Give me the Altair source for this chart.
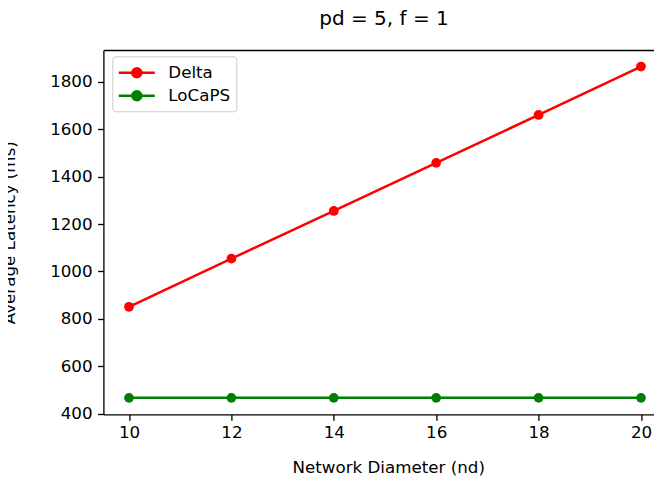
import altair as alt
import pandas as pd

nd = [10, 12, 14, 16, 18, 20]
delta = [851, 1054, 1255, 1458, 1660, 1864]
locaps = [467, 467, 467, 467, 467, 467]
series_names = ["Delta", "LoCaPS"]
series_colors = ["#ff0000", "#008000"]
x_ticks = [10, 12, 14, 16, 18, 20]
y_ticks = [400, 600, 800, 1000, 1200, 1400, 1600, 1800]

df = pd.DataFrame({
    "nd": nd + nd,
    "latency": delta + locaps,
    "series": ["Delta"] * len(nd) + ["LoCaPS"] * len(nd),
})

FONT = "DejaVu Sans"
FS = 16.7
W = 550.6
H = 364.4

xscale = alt.Scale(domain=[9.5, 20.254], nice=False, zero=False)
yscale = alt.Scale(domain=[397.15, 1933.85], nice=False, zero=False)

xaxis = alt.Axis(values=x_ticks, grid=False, tickSize=5.8, tickWidth=1.33, tickColor="black",
                 domainColor="black", domainWidth=1.33, labelFontSize=FS, labelColor="black",
                 labelPadding=4, title="Network Diameter (nd)", titleFontSize=FS,
                 titleFontWeight="normal", titleColor="black", titleBaseline="alphabetic",
                 titleY=57.6, titleX=W / 2 + 9.5, format="d", orient="bottom")
yaxis = alt.Axis(values=y_ticks, grid=False, tickSize=5.8, tickWidth=1.33, tickColor="black",
                 domainColor="black", domainWidth=1.33, labelFontSize=FS, labelColor="black",
                 labelPadding=5.5, title="Average Latency (ms)", titleFontSize=FS,
                 titleFontWeight="normal", titleColor="black", titleBaseline="alphabetic",
                 titleX=-88.9, titleY=H / 2, format="d")

legend = alt.Legend(
    title=None, orient="none", legendX=8.9, legendY=6.3, padding=6,
    strokeColor="#cccccc", fillColor="white", cornerRadius=3,
    labelFontSize=FS, labelColor="black", labelFont=FONT,
    symbolType="M-2,0H2M-0.5,0A0.5,0.5 0 1,1 0.5,0A0.5,0.5 0 1,1 -0.5,0Z",
    symbolSize=324, symbolStrokeWidth=2.5, symbolOffset=8, labelOffset=21,
    rowPadding=3, symbolOpacity=1,
)

color = alt.Color("series:N", scale=alt.Scale(domain=series_names, range=series_colors), legend=legend)

base = alt.Chart(df).encode(
    x=alt.X("nd:Q", scale=xscale, axis=xaxis),
    y=alt.Y("latency:Q", scale=yscale, axis=yaxis),
    color=color,
)
lines = base.mark_line(strokeWidth=2.5)
points = base.mark_point(filled=True, size=95, opacity=1)

top_spine = alt.Chart(df).mark_point(opacity=0).encode(
    x=alt.X("nd:Q", scale=xscale, axis=alt.Axis(orient="top", labels=False, ticks=False, title=None,
                                              grid=False, domainColor="black", domainWidth=1.33)),
    y=alt.Y("latency:Q", scale=yscale, axis=yaxis),
)

chart = alt.layer(alt.layer(lines, points), top_spine).resolve_axis(x="independent").properties(
    width=W, height=H,
    title=alt.TitleParams("pd = 5, f = 1", fontSize=20, fontWeight="normal", color="black",
                          baseline="alphabetic", offset=5, anchor="middle", frame="group", dx=5.3),
    autosize=alt.AutoSizeParams(type="none"),
    padding={"left": 95.4, "top": 42, "right": 0, "bottom": 61.6},
).configure(font=FONT).configure_view(stroke=None)

chart.save("out.html", embed_options={"renderer": "svg", "actions": False})
